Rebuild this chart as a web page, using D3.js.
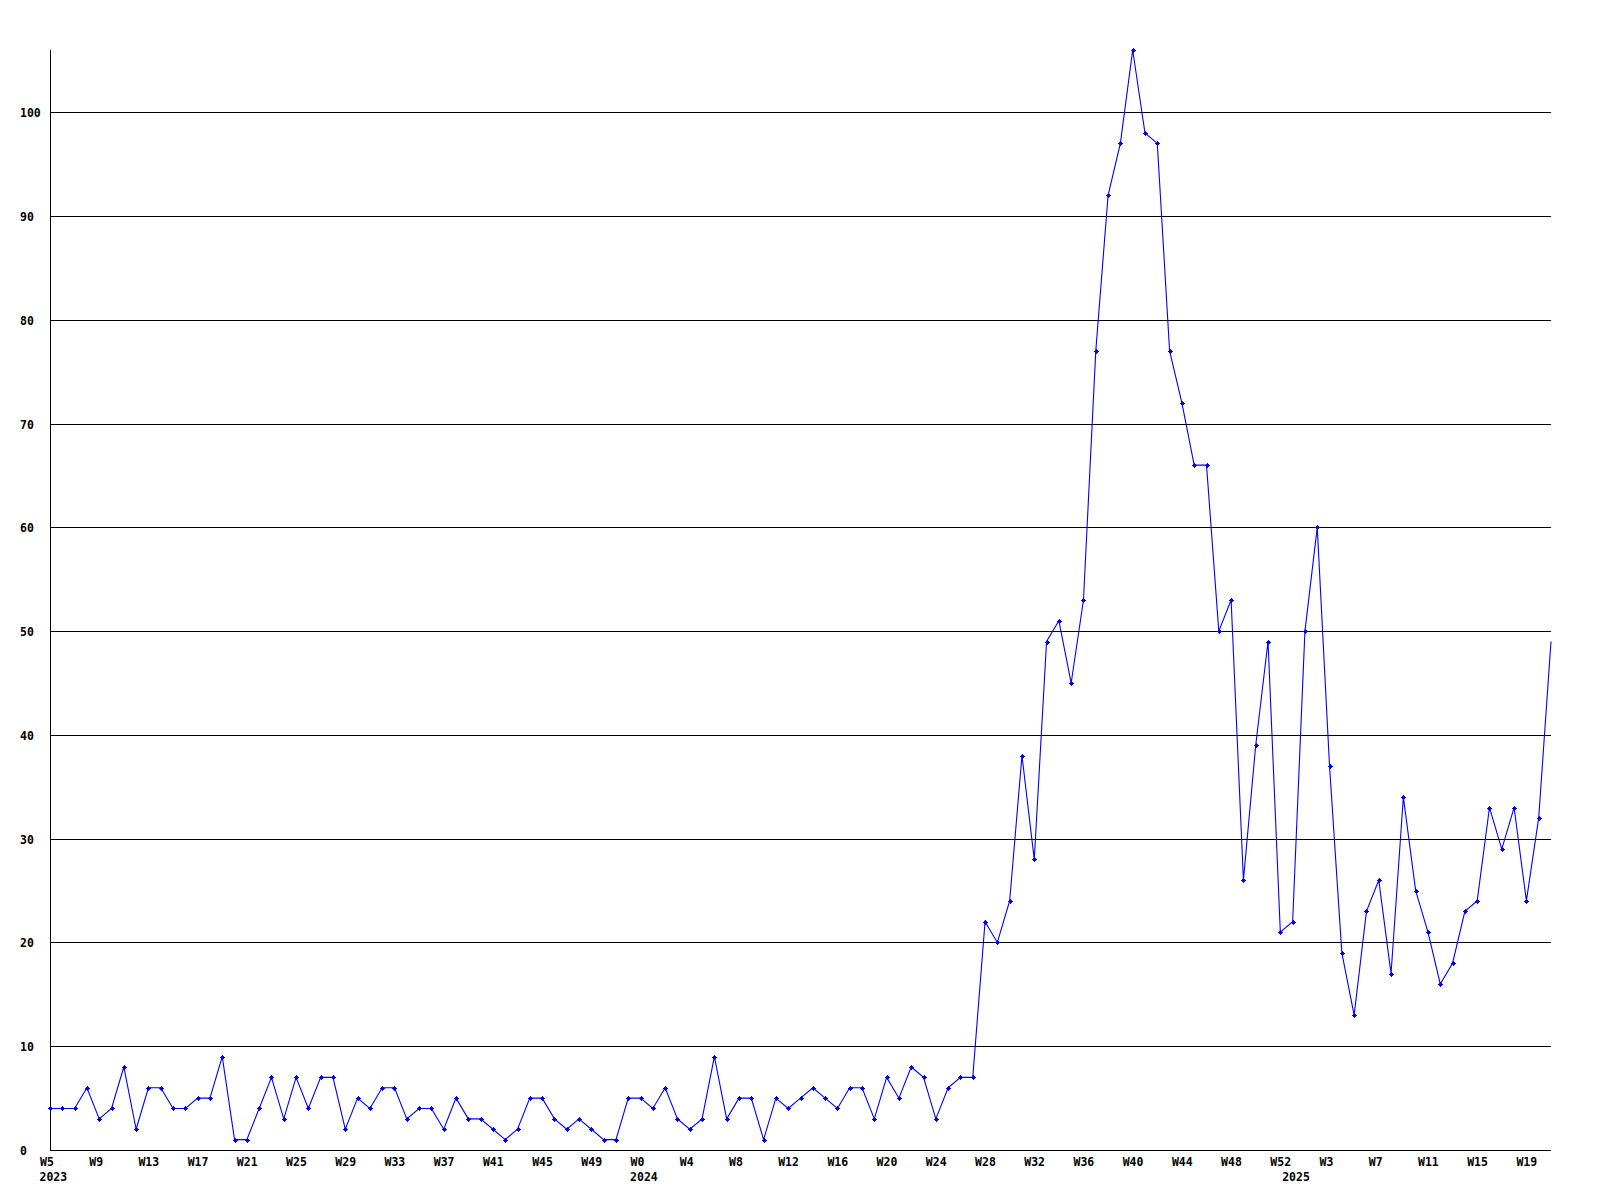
<!DOCTYPE html>
<html><head><meta charset="utf-8">
<script src="https://cdn.jsdelivr.net/npm/d3@7"></script>
<style>
html,body{margin:0;padding:0;background:#fff;}
svg{display:block;background:#fff;}
text{font-family:"DejaVu Sans Mono","Liberation Mono",monospace;font-weight:bold;font-size:11.5px;fill:#000;}
</style>
</head><body>
<svg id="chart" width="1600" height="1200"></svg>
<script>
// ---- data (weekly counts) ----
const firstWeek2023 = 5;
const values2023 = [4,4,4,6,3,4,8,2,6,6, 4,4,5,5,9,1,1,4,7,3, 7,4,7,7,2,5,4,6,6,3, 4,4,2,5,3,3,2,1,2,5, 5,3,2,3,2,1,1,5];
const values2024 = [5,4,6,3,2,3,9,3,5,5, 1,5,4,5,6,5,4,6,6,3, 7,5,8,7,3,6,7,7,22,20, 24,38,28,49,51,45,53,77,92,97, 106,98,97,77,72,66,66,50,53,26, 39,49,21];
const values2025 = [22,50,60,37,19,13,23,26,17,34,25,21,16,18,23,24,33,29,33,24,32,49];
const yearLabels = ["2023","2024","2025"];
const xTickLabels = ["W5","W9","W13","W17","W21","W25","W29","W33","W37","W41","W45","W49",
  "W0","W4","W8","W12","W16","W20","W24","W28","W32","W36","W40","W44","W48","W52",
  "W3","W7","W11","W15","W19"];
const yTickValues = [0,10,20,30,40,50,60,70,80,90,100];

// ---- build table ----
const series = [];
values2023.forEach((v,i)=>series.push({year:yearLabels[0], week:firstWeek2023+i, value:v}));
values2024.forEach((v,i)=>series.push({year:yearLabels[1], week:i, value:v}));
values2025.forEach((v,i)=>series.push({year:yearLabels[2], week:i, value:v}));
series.forEach(d=>d.key=d.year+"-W"+d.week);

const L=50, R=1551, T=50, B=1150;
const svg = d3.select("#chart");

const x = d3.scalePoint().domain(series.map(d=>d.key)).range([L,R]);
const y = d3.scaleLinear().domain([0, d3.max(series,d=>d.value)]).range([B,T]);

// y axis with grid
const yAxis = d3.axisLeft(y).tickValues(yTickValues).tickSize(-(R-L)).tickPadding(0).tickFormat(d3.format("d"));
const gy = svg.append("g").attr("transform",`translate(${L},0)`).call(yAxis);
gy.select(".domain").remove();
gy.selectAll(".tick line").attr("stroke","#000").attr("stroke-width",1).attr("shape-rendering","crispEdges");
gy.selectAll(".tick text").attr("text-anchor","start").attr("x",-30).attr("dy","0.39em").attr("fill","#000");

// vertical axis line
svg.append("line").attr("x1",L+0.5).attr("x2",L+0.5).attr("y1",T).attr("y2",B)
  .attr("stroke","#000").attr("stroke-width",1).attr("shape-rendering","crispEdges");

// x axis labels
const tickKeys = series.filter((d,i)=>i%4===0).map(d=>d.key);
const labelByKey = new Map(tickKeys.map((k,i)=>[k,xTickLabels[i]]));
const xAxis = d3.axisBottom(x).tickValues(tickKeys).tickSize(0).tickFormat(k=>labelByKey.get(k));
const gx = svg.append("g").attr("transform",`translate(0,${B})`).call(xAxis);
gx.select(".domain").remove();
gx.selectAll(".tick text").attr("text-anchor","start").attr("x",-10.5).attr("y",16).attr("dy",0).attr("fill","#000");

// year labels at first week of each year
yearLabels.forEach(yr=>{
  const first = series.find(d=>d.year===yr);
  svg.append("text").attr("x",x(first.key)-10.5).attr("y",B+31).text(yr);
});

// line
const line = d3.line().x(d=>x(d.key)).y(d=>y(d.value));
svg.append("path").datum(series).attr("d",line)
  .attr("fill","none").attr("stroke","#0000ff").attr("stroke-width",1.1);

// markers
svg.append("clipPath").attr("id","mclip").append("rect")
  .attr("x",0).attr("y",0).attr("width",R-3).attr("height",1200);
const marker = "M-2.5,-0.5h5v1h-5z M-0.5,-2.5h1v5h-1z M-1.5,-1.5h3v3h-3z";
svg.append("g").attr("clip-path","url(#mclip)").selectAll("path").data(series).join("path")
  .attr("transform",d=>`translate(${Math.round(x(d.key))+0.5},${Math.round(y(d.value))+0.5})`)
  .attr("d",marker).attr("fill","#0000ff").attr("shape-rendering","crispEdges");
</script>
</body></html>
